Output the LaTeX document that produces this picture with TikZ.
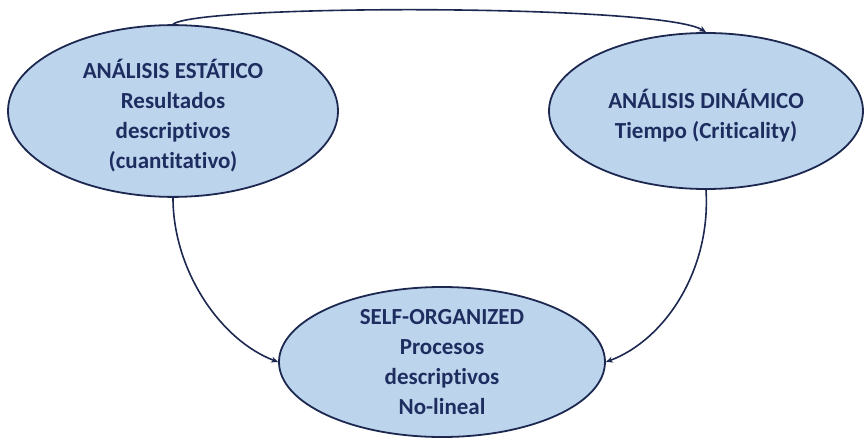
\documentclass[tikz,border=0pt]{standalone}
\usepackage{fontspec}
\setmainfont{Carlito}[Ligatures={NoCommon}]
\usetikzlibrary{shapes.geometric,arrows.meta}
\definecolor{fillblue}{RGB}{189,212,237}
\definecolor{navy}{RGB}{28,40,80}
\definecolor{txtnavy}{RGB}{30,45,95}
\tikzset{
  oval/.style={ellipse, draw=navy, line width=1.8pt, fill=fillblue, inner sep=0pt,
    align=center, font=\bfseries\fontsize{23}{30}\selectfont, text=txtnavy},
  conn/.style={draw=navy, line width=1.6pt, -{Stealth[length=7pt,width=6pt]}}
}
\begin{document}
\begin{tikzpicture}[x=1pt,y=-1pt]
\useasboundingbox (0,0) rectangle (864,439);
\node[oval, minimum width=330pt, minimum height=158pt] (L) at (173,111)
  {\rule{0pt}{28pt}ANÁLISIS ESTÁTICO\\Resultados\\descriptivos\\(cuantitativo)};
\node[oval, minimum width=314pt, minimum height=156pt] (R) at (706,111)
  {\rule{0pt}{28pt}ANÁLISIS DINÁMICO\\Tiempo (Criticality)};
\node[oval, minimum width=326pt, minimum height=150pt] (B) at (442,362)
  {SELF-ORGANIZED\\Procesos\\descriptivos\\No-lineal};
\draw[conn] (L.north) .. controls (200,4) and (660,4) .. (R.north);
\draw[conn] (L.south) .. controls (173,270) and (220,340) .. (B.west);
\draw[conn] (R.south) .. controls (711,270) and (665,340) .. (B.east);
\end{tikzpicture}
\end{document}
